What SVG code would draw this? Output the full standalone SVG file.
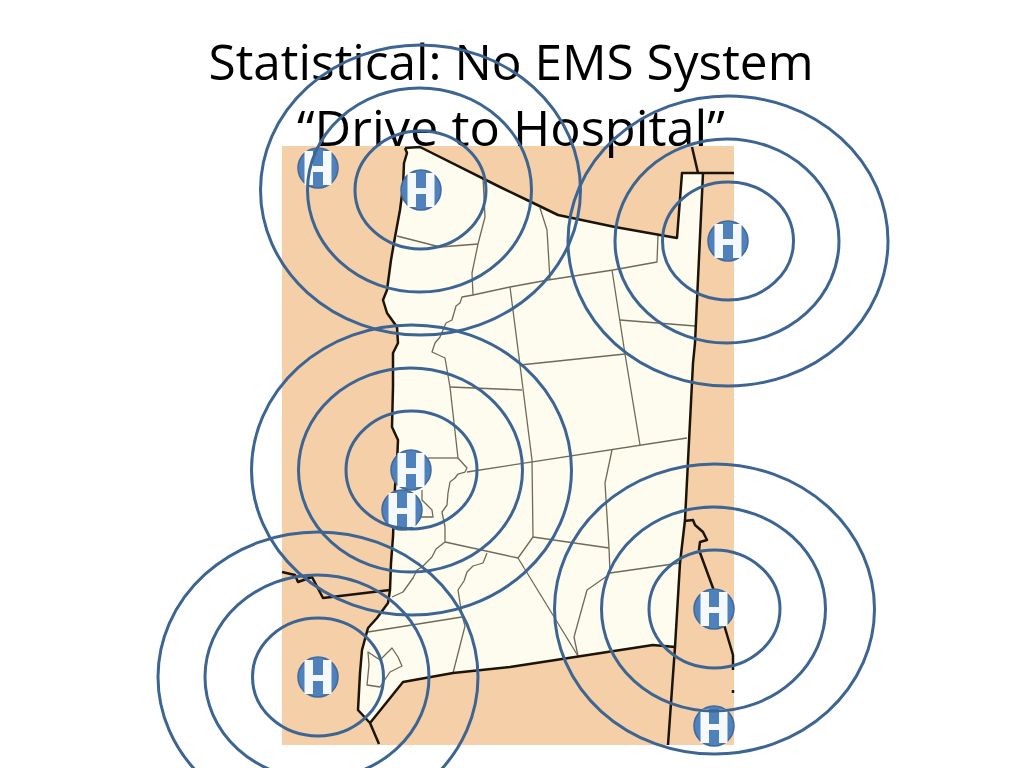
<svg xmlns="http://www.w3.org/2000/svg" width="1024" height="768" viewBox="0 0 1024 768">
<style>
.title{font-family:"Open Sans","Noto Sans",sans-serif;font-size:50px;fill:#000;text-anchor:middle}
.b{fill:none;stroke:#1c1408;stroke-width:2.5;stroke-linejoin:round}
.c{fill:none;stroke:#6f6a58;stroke-width:1.3;stroke-linejoin:round}
.r{fill:none;stroke:#3d6593;stroke-width:3}
.hc{fill:#4f81bd;stroke:#41699a;stroke-width:1.5}
.hw{fill:#fff;opacity:.95}
</style>
<defs>
<g id="hosp">
<circle class="hc" r="20"/>
<path class="hw" d="M-13.500-17H-5V-2H5V-17H13.500V17H5V4H-5V17H-13.500Z"/>
</g>
<g id="rings">
<ellipse class="r" rx="65.500" ry="59"/>
<ellipse class="r" cx="-1" rx="112" ry="102"/>
<ellipse class="r" rx="160" ry="145"/>
</g>
</defs>
<g id="map">
<rect x="282" y="146" width="452" height="599" fill="#f4cfa7"/>
<path id="land" fill="#fefcee" d="M405 148L407 153L404 163L403 187L400 210L395 237L391 260L387 290L383 300L387 313L397 327L398 343L393 353L393 373L393 387L392 427L398 440L397 463L395 487L393 537L391 563L390 590L388 603L377 618L368 628L362 650L360 673L358 710L370 723L403 682L453 673L510 667L653 645L675 647L680 563L685 520L693 363L695 343L703 173H682L677 238L615 227L558 215L527 200L500 187L420 147Z"/>
<g id="counties">
<path class="c" d="M397 236L440 247L478 244"/>
<path class="c" d="M483 178L485 217L478 244L472 273L473 295L462 297L460 303L456 306L452 320L446 323L440 337L435 343L432 352L445 358L450 387L458 458L467 468L465 472L458 474L455 478L450 482L448 493L447 505L442 512L445 527L445 542L436 549L432 557L422 567L417 570L413 578L403 592L392 597"/>
<path class="c" d="M487 553L483 563L473 566L467 572L464 581L458 590L460 603L462 615L465 626L453 673"/>
<path class="c" d="M368 632L462 617"/>
<path class="c" d="M473 295L510 287L548 280L613 270L657 262L658 235"/>
<path class="c" d="M540 208L547 230L550 280"/>
<path class="c" d="M510 287L520 365L532 460L533 537L518 558L578 656"/>
<path class="c" d="M520 365L625 354"/>
<path class="c" d="M612 270L625 354L640 445"/>
<path class="c" d="M620 320L695 326"/>
<path class="c" d="M450 387L522 390"/>
<path class="c" d="M428 458H458"/>
<path class="c" d="M467 472L687 438"/>
<path class="c" d="M612 450L605 483L609 548L610 573"/>
<path class="c" d="M533 537L609 548"/>
<path class="c" d="M445 542L518 558"/>
<path class="c" d="M610 573L680 563"/>
<path class="c" d="M607 576L587 590L574 637L578 656"/>
<path class="c" d="M422 490V500L432 510L433 517L413 517"/>
<path class="c" d="M368 652L380 660L392 648L398 657L402 666L390 672L380 687L367 685L369 665Z"/>
</g>
<g id="borders">
<path class="b" d="M405 148L407 153L404 163L403 187L400 210L395 237L391 260L387 290L383 300L387 313L397 327L398 343L393 353L393 373L393 387L392 427L398 440L397 463L395 487L393 537L391 563L390 590L388 603L377 618L368 628L362 650L360 673L358 710L370 723L379 744"/>
<path class="b" d="M370 723L403 682L453 673L510 667L653 645L675 647"/>
<path class="b" d="M668 745L675 647L680 563L685 520L693 363L695 343L703 173"/>
<path class="b" d="M734 173H682L677 238L615 227L558 215L527 200L500 187L420 147L405 148"/>
<path class="b" d="M692 147L698 173"/>
<path class="b" d="M684 521L693 520L695 525L703 532L707 540L700 542L699 550L713 588L725 628L733 655V670M733 690V693"/>
<path class="b" d="M282 572L295 575L298 582L312 577L323 598L390 590"/>
</g>
</g>
<g id="title">
<text class="title" x="511" y="80" textLength="605" lengthAdjust="spacingAndGlyphs">Statistical: No EMS System</text>
<text class="title" x="511" y="146" textLength="428" lengthAdjust="spacingAndGlyphs">“Drive to Hospital”</text>
</g>
<g id="hospital-a"><use href="#hosp" x="318" y="168"/></g>
<g id="hospital-b"><use href="#hosp" x="421" y="190"/></g>
<g id="hospital-c"><use href="#hosp" x="728" y="241"/></g>
<g id="hospital-d"><use href="#hosp" x="411" y="470"/></g>
<g id="hospital-e"><use href="#hosp" x="402" y="510"/></g>
<g id="hospital-f"><use href="#hosp" x="318" y="677"/></g>
<g id="hospital-g"><use href="#hosp" x="714" y="609"/></g>
<g id="hospital-h"><use href="#hosp" x="714" y="726"/></g>
<g id="connectors">
<use href="#rings" x="420.500" y="190"/>
<use href="#rings" x="728" y="241"/>
<use href="#rings" x="411.500" y="470"/>
<use href="#rings" x="318" y="677"/>
<use href="#rings" x="714.500" y="609"/>
</g>
</svg>
